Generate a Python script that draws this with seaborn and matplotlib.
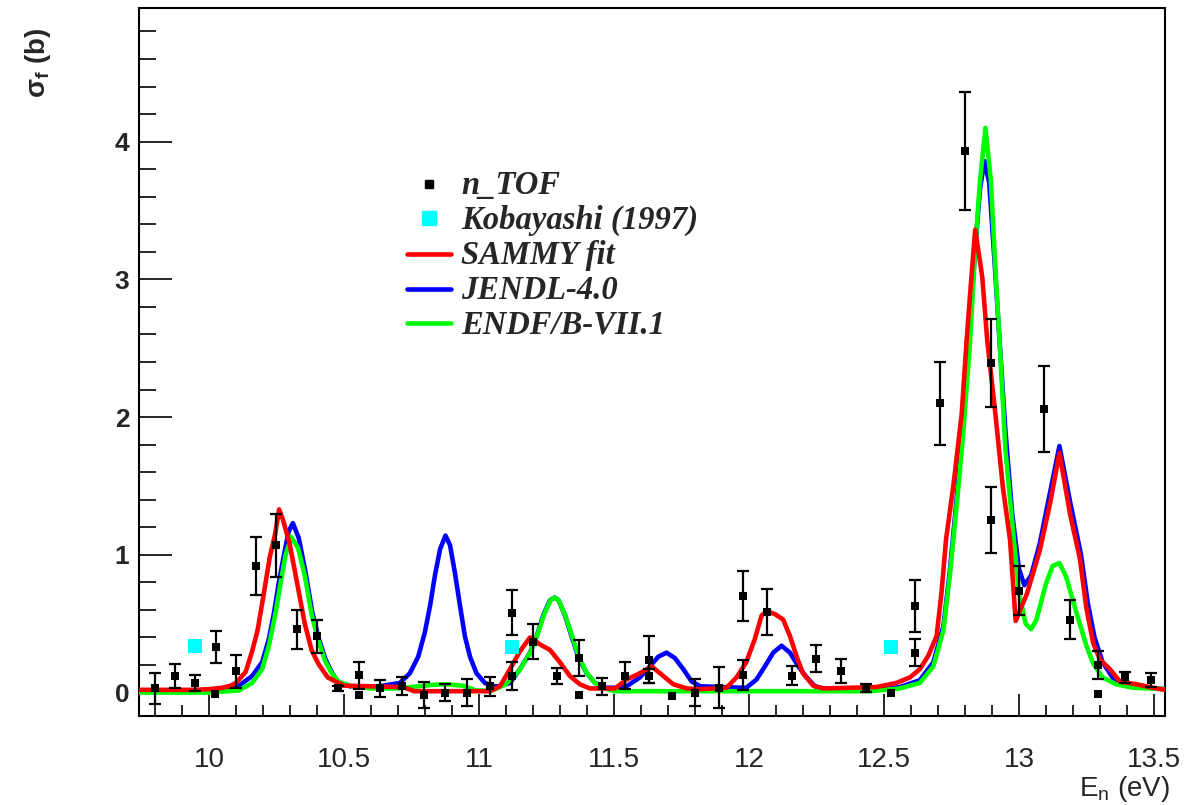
import matplotlib
matplotlib.use("Agg")
import matplotlib.pyplot as plt
from matplotlib.lines import Line2D
from matplotlib.ticker import MultipleLocator, FixedLocator
from matplotlib.font_manager import FontProperties
import pandas as pd
import seaborn as sns

# ---- n_TOF measured fission cross section (energy in eV, sigma in barn) ----
ntof_e = [9.800, 9.875, 9.948, 10.022, 10.025, 10.100, 10.174, 10.250, 10.325, 10.400,
          10.478, 10.555, 10.555, 10.633, 10.714, 10.797, 10.874, 10.957, 11.040, 11.121,
          11.121, 11.200, 11.288, 11.372, 11.372, 11.454, 11.540, 11.631, 11.631, 11.714,
          11.800, 11.890, 11.979, 11.979, 12.068, 12.158, 12.248, 12.340, 12.433, 12.525,
          12.615, 12.615, 12.707, 12.800, 12.896, 12.896, 13.000, 13.094, 13.190, 13.294,
          13.294, 13.393, 13.490]
ntof_sigma = [0.03, 0.12, 0.07, -0.01, 0.33, 0.155, 0.92, 1.07, 0.46, 0.41,
              0.03, 0.125, -0.015, 0.03, 0.045, -0.015, 0.0, 0.0, 0.045, 0.58,
              0.12, 0.37, 0.12, 0.25, -0.015, 0.045, 0.124, 0.24, 0.12, -0.027,
              0.0, 0.035, 0.70, 0.13, 0.586, 0.124, 0.246, 0.156, 0.034, 0.0,
              0.63, 0.29, 2.10, 3.93, 2.39, 1.25, 0.74, 2.06, 0.53, 0.20,
              -0.01, 0.11, 0.09]
ntof_err = [0.11, 0.09, 0.055, 0.0, 0.115, 0.12, 0.21, 0.23, 0.14, 0.12,
            0.02, 0.10, 0.0, 0.06, 0.065, 0.095, 0.06, 0.10, 0.07, 0.165,
            0.10, 0.125, 0.06, 0.13, 0.0, 0.06, 0.10, 0.17, 0.05, 0.0,
            0.10, 0.15, 0.18, 0.11, 0.165, 0.07, 0.10, 0.09, 0.03, 0.0,
            0.19, 0.10, 0.30, 0.43, 0.32, 0.24, 0.18, 0.31, 0.14, 0.10,
            0.0, 0.04, 0.05]

# ---- Kobayashi (1997) ----
kob_e = [9.948, 11.121, 12.525]
kob_sigma = [0.34, 0.33, 0.33]

# ---- evaluated / fitted curves: (energy, sigma) ----
sammy_fit = [(9.74, 0.02), (9.95, 0.02), (10.00, 0.025), (10.05, 0.035), (10.08, 0.05),
             (10.10, 0.07), (10.136, 0.15), (10.16, 0.30), (10.18, 0.45), (10.20, 0.68),
             (10.225, 0.98), (10.245, 1.15), (10.26, 1.33), (10.275, 1.25), (10.30, 1.07),
             (10.33, 0.76), (10.355, 0.50), (10.38, 0.31), (10.405, 0.21), (10.44, 0.11),
             (10.47, 0.08), (10.50, 0.05), (10.72, 0.04), (10.76, 0.01), (11.04, 0.01),
             (11.078, 0.046), (11.115, 0.17), (11.152, 0.30), (11.189, 0.40), (11.226, 0.35),
             (11.263, 0.31), (11.30, 0.22), (11.337, 0.12), (11.374, 0.06), (11.411, 0.03),
             (11.504, 0.03), (11.547, 0.095), (11.596, 0.14), (11.64, 0.19), (11.683, 0.12),
             (11.72, 0.06), (11.77, 0.03), (11.82, 0.025), (11.917, 0.035), (11.954, 0.11),
             (11.99, 0.22), (12.022, 0.39), (12.047, 0.56), (12.066, 0.59), (12.096, 0.57),
             (12.127, 0.53), (12.152, 0.41), (12.177, 0.26), (12.20, 0.14), (12.238, 0.05),
             (12.275, 0.03), (12.472, 0.04), (12.546, 0.07), (12.596, 0.11), (12.633, 0.17),
             (12.665, 0.27), (12.695, 0.41), (12.713, 0.72), (12.73, 1.11), (12.757, 1.50),
             (12.788, 2.02), (12.806, 2.55), (12.821, 2.94), (12.838, 3.36), (12.864, 3.02),
             (12.883, 2.55), (12.913, 2.02), (12.94, 1.50), (12.967, 1.11), (12.988, 0.52),
             (13.03, 0.72), (13.077, 1.03), (13.115, 1.37), (13.15, 1.74), (13.19, 1.29),
             (13.226, 0.97), (13.25, 0.61), (13.275, 0.36), (13.30, 0.24), (13.337, 0.17),
             (13.374, 0.08), (13.436, 0.06), (13.497, 0.035), (13.54, 0.02)]

jendl_40 = [(9.74, 0.01), (10.0, 0.01), (10.05, 0.02), (10.111, 0.05), (10.16, 0.12),
            (10.197, 0.22), (10.222, 0.39), (10.241, 0.58), (10.259, 0.80), (10.278, 1.0),
            (10.295, 1.17), (10.311, 1.23), (10.333, 1.12), (10.358, 0.87), (10.383, 0.58),
            (10.407, 0.39), (10.432, 0.24), (10.457, 0.14), (10.481, 0.07), (10.522, 0.046),
            (10.633, 0.046), (10.707, 0.07), (10.744, 0.14), (10.775, 0.26), (10.80, 0.44),
            (10.819, 0.63), (10.837, 0.85), (10.856, 1.04), (10.876, 1.14), (10.893, 1.07),
            (10.911, 0.87), (10.93, 0.63), (10.948, 0.41), (10.967, 0.26), (10.991, 0.14),
            (11.022, 0.07), (11.053, 0.046), (11.078, 0.046), (11.115, 0.07), (11.152, 0.17),
            (11.189, 0.29), (11.214, 0.41), (11.238, 0.56), (11.263, 0.67), (11.28, 0.69),
            (11.295, 0.67), (11.319, 0.56), (11.343, 0.41), (11.368, 0.26), (11.399, 0.14),
            (11.43, 0.07), (11.473, 0.035), (11.504, 0.035), (11.547, 0.046), (11.596, 0.11),
            (11.633, 0.19), (11.664, 0.26), (11.695, 0.29), (11.726, 0.25), (11.757, 0.17),
            (11.788, 0.08), (11.82, 0.046), (11.99, 0.034), (12.028, 0.095), (12.059, 0.19),
            (12.09, 0.29), (12.121, 0.34), (12.152, 0.29), (12.183, 0.19), (12.214, 0.11),
            (12.244, 0.046), (12.275, 0.03), (12.50, 0.03), (12.559, 0.04), (12.633, 0.09),
            (12.683, 0.22), (12.72, 0.48), (12.744, 0.88), (12.77, 1.42), (12.794, 1.97),
            (12.819, 2.65), (12.837, 3.2), (12.856, 3.66), (12.872, 3.86), (12.89, 3.7),
            (12.91, 3.12), (12.93, 2.5), (12.95, 1.9), (12.975, 1.3), (13.0, 0.9),
            (13.02, 0.78), (13.045, 0.85), (13.077, 1.08), (13.115, 1.45), (13.15, 1.79),
            (13.19, 1.38), (13.23, 1.0), (13.255, 0.65), (13.28, 0.4), (13.31, 0.22),
            (13.35, 0.1), (13.40, 0.06), (13.50, 0.03), (13.54, 0.025)]

endf_b71 = [(9.74, 0.0), (10.0, 0.0), (10.11, 0.015), (10.16, 0.07), (10.197, 0.17),
            (10.222, 0.34), (10.247, 0.58), (10.266, 0.80), (10.284, 1.0), (10.305, 1.13),
            (10.33, 1.05), (10.355, 0.85), (10.38, 0.57), (10.405, 0.38), (10.43, 0.23),
            (10.455, 0.14), (10.48, 0.08), (10.52, 0.05), (10.60, 0.03), (10.70, 0.03),
            (10.75, 0.04), (10.82, 0.055), (10.88, 0.06), (10.94, 0.05), (10.99, 0.015),
            (11.05, 0.015), (11.10, 0.06), (11.15, 0.16), (11.19, 0.29), (11.215, 0.41),
            (11.24, 0.56), (11.265, 0.67), (11.28, 0.69), (11.295, 0.67), (11.32, 0.56),
            (11.345, 0.41), (11.37, 0.26), (11.40, 0.14), (11.43, 0.07), (11.47, 0.03),
            (11.50, 0.01), (12.45, 0.01), (12.50, 0.02), (12.559, 0.03), (12.633, 0.07),
            (12.683, 0.19), (12.72, 0.45), (12.744, 0.85), (12.77, 1.37), (12.794, 1.89),
            (12.819, 2.55), (12.837, 3.2), (12.856, 3.72), (12.876, 4.10), (12.896, 3.72),
            (12.913, 3.07), (12.932, 2.42), (12.95, 1.76), (12.975, 1.24), (13.0, 0.72),
            (13.025, 0.5), (13.045, 0.46), (13.065, 0.53), (13.10, 0.79), (13.125, 0.92),
            (13.15, 0.94), (13.175, 0.84), (13.213, 0.58), (13.25, 0.34), (13.275, 0.21),
            (13.31, 0.11), (13.36, 0.06), (13.42, 0.036), (13.54, 0.025)]

x_ticks = [10, 10.5, 11, 11.5, 12, 12.5, 13, 13.5]
x_tick_labels = ["10", "10.5", "11", "11.5", "12", "12.5", "13", "13.5"]
y_ticks = [0, 1, 2, 3, 4]
y_tick_labels = ["0", "1", "2", "3", "4"]

sns.set_style("white")
plt.rcParams["font.family"] = ["Liberation Sans", "DejaVu Sans"]
plt.rcParams["mathtext.fontset"] = "custom"
plt.rcParams["mathtext.rm"] = "Liberation Sans"
plt.rcParams["mathtext.it"] = "Liberation Sans:italic"
plt.rcParams["mathtext.bf"] = "Liberation Sans:bold"

fig = plt.figure(figsize=(11.86, 8.05), dpi=100)
ax = fig.add_axes([139 / 1186, 1 - 716 / 805, (1165 - 139) / 1186, (716 - 8) / 805])

LW = 3.3
curves = [(jendl_40, "#0000FF", 2), (endf_b71, "#00FF00", 3), (sammy_fit, "#FF0000", 4)]
for data, col, z in curves:
    df = pd.DataFrame(data, columns=["E", "sigma"])
    sns.lineplot(data=df, x="E", y="sigma", ax=ax, color=col, lw=LW,
                 estimator=None, sort=False, zorder=z, legend=False)

# error bars only where the uncertainty is non-zero
pts = pd.DataFrame({"E": ntof_e, "sigma": ntof_sigma, "err": ntof_err})
with_err = pts[pts["err"] > 0]
ax.errorbar(with_err["E"], with_err["sigma"], yerr=with_err["err"], fmt="none",
            ecolor="black", elinewidth=1.6, capsize=4.5, capthick=1.6, zorder=6)
sns.scatterplot(data=pts, x="E", y="sigma", ax=ax, marker="s", s=38, color="black",
                edgecolor="black", linewidth=0, zorder=7, legend=False)
kob = pd.DataFrame({"E": kob_e, "sigma": kob_sigma})
sns.scatterplot(data=kob, x="E", y="sigma", ax=ax, marker="s", s=100, color="#00FFFF",
                edgecolor="#00FFFF", linewidth=0, zorder=7, legend=False)

ax.set_xlim(9.741, 13.541)
ax.set_ylim(-0.17, 4.97)
ax.xaxis.set_major_locator(FixedLocator(x_ticks))
ax.set_xticklabels(x_tick_labels)
ax.xaxis.set_minor_locator(MultipleLocator(0.1))
ax.yaxis.set_major_locator(FixedLocator(y_ticks))
ax.set_yticklabels(y_tick_labels)
ax.yaxis.set_minor_locator(MultipleLocator(0.2))
ax.tick_params(axis="x", which="major", direction="in", length=15.5, width=1.4,
               labelsize=20, pad=22, bottom=True, top=False)
ax.tick_params(axis="x", which="minor", direction="in", length=8, width=1.4,
               bottom=True, top=False)
ax.tick_params(axis="y", which="major", direction="in", length=23.5, width=1.4,
               labelsize=19, pad=7, left=True, right=False)
ax.tick_params(axis="y", which="minor", direction="in", length=12, width=1.4,
               left=True, right=False)
for lab in ax.get_yticklabels():
    lab.set_fontweight("bold")
for sp in ax.spines.values():
    sp.set_linewidth(1.5)
    sp.set_color("black")
ax.set_xlabel("")
ax.set_ylabel("")

fig.text(38 / 1186, 1 - 28 / 805, r"$\mathbf{\sigma_f}$ (b)", rotation=90,
         ha="center", va="top", fontsize=20, fontweight="bold")
fig.text(1170 / 1186, 1 - 804 / 805, r"E$_\mathregular{n}$ (eV)",
         ha="right", va="bottom", fontsize=20)

handles = [
    Line2D([], [], ls="none", marker="s", ms=5.5, color="black"),
    Line2D([], [], ls="none", marker="s", ms=10, color="#00FFFF"),
    Line2D([], [], color="#FF0000", lw=LW),
    Line2D([], [], color="#0000FF", lw=LW),
    Line2D([], [], color="#00FF00", lw=LW),
]
labels = ["n_TOF", "Kobayashi (1997)", "SAMMY fit", "JENDL-4.0", "ENDF/B-VII.1"]
legend_font = FontProperties(family="Liberation Serif", style="italic",
                             weight="bold", size=23.5)
ax.legend(handles, labels, loc="upper left",
          bbox_to_anchor=(407 / 1186, 1 - 170 / 805), bbox_transform=fig.transFigure,
          frameon=False, prop=legend_font, handlelength=1.36, handletextpad=0.3,
          labelspacing=0.12, borderpad=0, borderaxespad=0, handleheight=0.5)

fig.savefig("out.png", dpi=100)
